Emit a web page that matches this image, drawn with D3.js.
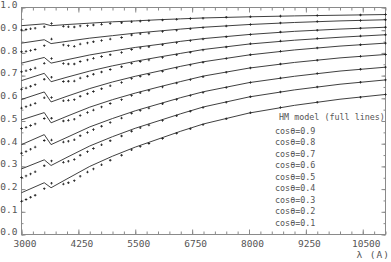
<!DOCTYPE html>
<html><head><meta charset="utf-8">
<script src="https://cdn.jsdelivr.net/npm/d3@7"></script>
<style>body{margin:0;background:#fff}svg{display:block}</style>
</head><body><svg id="c" width="391" height="262"></svg>
<script>
// ---- data ----
const mus = [0.9, 0.8, 0.7, 0.6, 0.5, 0.4, 0.3, 0.2, 0.1];
const lineLambda = [3000, 3500, 3650, 4000, 4500, 5000, 5500, 6000, 6500, 7000, 8000, 9000, 10000, 11000];
const model_09 = [0.920, 0.928, 0.920, 0.925, 0.931, 0.937, 0.941, 0.946, 0.950, 0.954, 0.959, 0.963, 0.966, 0.969];
const model_08 = [0.843, 0.858, 0.841, 0.851, 0.865, 0.876, 0.887, 0.896, 0.905, 0.913, 0.925, 0.934, 0.941, 0.946];
const model_07 = [0.755, 0.780, 0.755, 0.770, 0.791, 0.808, 0.824, 0.837, 0.851, 0.863, 0.881, 0.895, 0.905, 0.913];
const model_06 = [0.678, 0.710, 0.673, 0.693, 0.720, 0.743, 0.763, 0.781, 0.798, 0.815, 0.839, 0.856, 0.869, 0.880];
const model_05 = [0.595, 0.628, 0.584, 0.609, 0.643, 0.672, 0.697, 0.719, 0.741, 0.761, 0.791, 0.813, 0.830, 0.843];
const model_04 = [0.505, 0.537, 0.492, 0.521, 0.561, 0.594, 0.623, 0.649, 0.674, 0.698, 0.733, 0.758, 0.778, 0.793];
const model_03 = [0.396, 0.440, 0.396, 0.428, 0.474, 0.511, 0.545, 0.574, 0.603, 0.629, 0.669, 0.697, 0.720, 0.737];
const model_02 = [0.289, 0.329, 0.304, 0.340, 0.390, 0.431, 0.468, 0.500, 0.532, 0.562, 0.606, 0.637, 0.662, 0.681];
const model_01 = [0.184, 0.228, 0.206, 0.245, 0.300, 0.345, 0.385, 0.420, 0.455, 0.487, 0.535, 0.569, 0.596, 0.617];

const obsLambda = [3000, 3100, 3200, 3300, 3500, 3660, 3920, 4030, 4160, 4290, 4450, 4580, 4760, 4950, 5200, 5420, 5610, 5800, 6100, 6410, 6710, 6990, 7500, 8030, 8690, 9500, 10450, 11000];
const obs_09 = [0.901, 0.903, 0.906, 0.909, 0.915, 0.930, 0.917, 0.915, 0.914, 0.919, 0.920, 0.923, 0.926, 0.929, 0.933, 0.937, 0.940, 0.942, 0.945, 0.948, 0.951, 0.953, 0.957, 0.959, 0.962, 0.965, 0.967, 0.969];
const obs_08 = [0.805, 0.807, 0.811, 0.815, 0.832, 0.861, 0.835, 0.832, 0.829, 0.839, 0.844, 0.849, 0.855, 0.861, 0.868, 0.879, 0.884, 0.887, 0.894, 0.900, 0.906, 0.911, 0.918, 0.925, 0.932, 0.938, 0.943, 0.946];
const obs_07 = [0.717, 0.721, 0.727, 0.733, 0.754, 0.775, 0.753, 0.751, 0.751, 0.762, 0.769, 0.776, 0.784, 0.792, 0.802, 0.815, 0.822, 0.827, 0.836, 0.845, 0.854, 0.861, 0.871, 0.881, 0.892, 0.900, 0.909, 0.913];
const obs_06 = [0.640, 0.645, 0.653, 0.660, 0.684, 0.693, 0.674, 0.675, 0.676, 0.689, 0.697, 0.706, 0.716, 0.727, 0.739, 0.754, 0.762, 0.769, 0.780, 0.792, 0.803, 0.813, 0.826, 0.840, 0.852, 0.863, 0.874, 0.880];
const obs_05 = [0.557, 0.563, 0.570, 0.578, 0.602, 0.604, 0.589, 0.591, 0.594, 0.609, 0.620, 0.630, 0.642, 0.655, 0.670, 0.687, 0.697, 0.705, 0.719, 0.734, 0.747, 0.759, 0.775, 0.792, 0.807, 0.822, 0.836, 0.843];
const obs_04 = [0.467, 0.472, 0.480, 0.487, 0.511, 0.512, 0.500, 0.503, 0.508, 0.524, 0.537, 0.548, 0.562, 0.577, 0.594, 0.612, 0.624, 0.634, 0.650, 0.667, 0.682, 0.695, 0.715, 0.734, 0.751, 0.768, 0.785, 0.793];
const obs_03 = [0.358, 0.366, 0.376, 0.385, 0.414, 0.416, 0.407, 0.411, 0.417, 0.435, 0.449, 0.462, 0.477, 0.493, 0.513, 0.534, 0.546, 0.557, 0.576, 0.595, 0.612, 0.626, 0.648, 0.670, 0.689, 0.709, 0.728, 0.737];
const obs_02 = [0.251, 0.258, 0.267, 0.276, 0.303, 0.324, 0.318, 0.323, 0.330, 0.349, 0.365, 0.379, 0.395, 0.413, 0.434, 0.455, 0.470, 0.482, 0.502, 0.523, 0.543, 0.559, 0.583, 0.607, 0.628, 0.650, 0.671, 0.681];
const obs_01 = [0.146, 0.154, 0.164, 0.173, 0.202, 0.226, 0.222, 0.228, 0.237, 0.257, 0.275, 0.289, 0.307, 0.327, 0.349, 0.373, 0.388, 0.401, 0.423, 0.446, 0.466, 0.484, 0.510, 0.536, 0.560, 0.583, 0.605, 0.617];

const xTickValues = [3000, 4250, 5500, 6750, 8000, 9250, 10500];
const yTickValues = [0.0, 0.1, 0.2, 0.3, 0.4, 0.5, 0.6, 0.7, 0.8, 0.9, 1.0];
const legendTitle = "HM model (full lines)";
const legendLabels = ["cosθ=0.9", "cosθ=0.8", "cosθ=0.7", "cosθ=0.6", "cosθ=0.5", "cosθ=0.4", "cosθ=0.3", "cosθ=0.2", "cosθ=0.1"];
const xTitle = "λ (A)";

const models = [model_09, model_08, model_07, model_06, model_05, model_04, model_03, model_02, model_01];
const observed = [obs_09, obs_08, obs_07, obs_06, obs_05, obs_04, obs_03, obs_02, obs_01];

// ---- layout ----
const L = 21.5, R = 385.5, T = 7.5, B = 234.5;
const frameCol = "#8a8a8a", textCol = "#555", lineCol = "#2a2a2a";
const font = "'DejaVu Sans Mono', monospace";

const svg = d3.select("#c");
const x = d3.scaleLinear().domain([3000, 11000]).range([L, R]);
const y = d3.scaleLinear().domain([0, 1]).range([B, T]);

const minorX = d3.range(3000, 11001, 250);
const minorY = d3.range(0, 1.0001, 0.05);

function styleAxis(g) {
  g.select(".domain").remove();
  g.selectAll("line").attr("stroke", frameCol);
  g.selectAll("text").attr("fill", textCol).style("font-family", font).style("font-size", "9.5px");
}

// minor ticks
svg.append("g").attr("transform", `translate(0,${B})`)
  .call(d3.axisBottom(x).tickValues(minorX).tickSize(-3).tickFormat(""))
  .call(styleAxis);
svg.append("g").attr("transform", `translate(0,${T})`)
  .call(d3.axisTop(x).tickValues(minorX).tickSize(-3).tickFormat(""))
  .call(styleAxis);
svg.append("g").attr("transform", `translate(${L},0)`)
  .call(d3.axisLeft(y).tickValues(minorY).tickSize(-2).tickFormat(""))
  .call(styleAxis);
svg.append("g").attr("transform", `translate(${R},0)`)
  .call(d3.axisRight(y).tickValues(minorY).tickSize(-2).tickFormat(""))
  .call(styleAxis);

// major ticks
svg.append("g").attr("transform", `translate(0,${B})`)
  .call(d3.axisBottom(x).tickValues(xTickValues).tickSize(-5).tickPadding(6).tickFormat(d3.format("d")))
  .call(styleAxis)
  .call(g => g.selectAll("text").attr("dx", 3));
svg.append("g").attr("transform", `translate(0,${T})`)
  .call(d3.axisTop(x).tickValues(xTickValues).tickSize(-5).tickFormat(""))
  .call(styleAxis);
svg.append("g").attr("transform", `translate(${L},0)`)
  .call(d3.axisLeft(y).tickValues(yTickValues).tickSize(-4).tickPadding(4).tickFormat(d3.format(".1f")))
  .call(styleAxis)
  .call(g => g.selectAll("text").attr("dy", "0.3px"));
svg.append("g").attr("transform", `translate(${R},0)`)
  .call(d3.axisRight(y).tickValues(yTickValues).tickSize(-4).tickFormat(""))
  .call(styleAxis);

// frame
svg.append("rect").attr("x", L).attr("y", T).attr("width", R - L).attr("height", B - T)
  .attr("fill", "none").attr("stroke", frameCol).attr("stroke-width", 1);

// model lines
const line = d3.line().x(d => x(d[0])).y(d => y(d[1]));
models.forEach(m => {
  svg.append("path").datum(lineLambda.map((l, i) => [l, m[i]]))
    .attr("d", line).attr("fill", "none").attr("stroke", lineCol).attr("stroke-width", 0.9);
});

// observed points (small crosses)
const cross = d3.symbol().type(d3.symbolCross).size(3.5);
observed.forEach(o => {
  svg.append("g").selectAll("path").data(obsLambda.map((l, i) => [l, o[i]]))
    .join("path")
    .attr("transform", d => `translate(${x(d[0])},${y(d[1])})`)
    .attr("d", cross).attr("fill", "#222");
});

// legend
svg.append("text").attr("x", 279).attr("y", 117).attr("dy", "0.35em")
  .attr("fill", textCol).style("font-family", font).style("font-size", "8.4px").text(legendTitle);
svg.append("g").selectAll("text").data(legendLabels).join("text")
  .attr("x", 275).attr("y", (d, i) => 131 + i * 11.5).attr("dy", "0.35em")
  .attr("fill", textCol).style("font-family", font).style("font-size", "8.4px").text(d => d);

// axis title
svg.append("text").attr("x", 390).attr("y", 255).attr("dy", "0.35em").attr("text-anchor", "end")
  .attr("fill", textCol).style("font-family", font).style("font-size", "9.5px")
  .style("letter-spacing", "1px").text(xTitle);
</script></body></html>
